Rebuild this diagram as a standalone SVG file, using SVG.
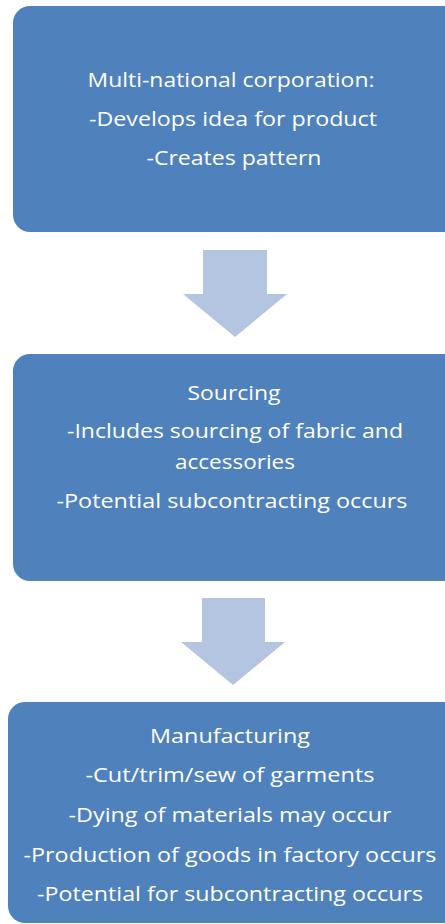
<svg xmlns="http://www.w3.org/2000/svg" width="445" height="924" viewBox="0 0 445 924">
<style>
.box{fill:#4F81BD}
.arrow{fill:#B3C5E0}
text{font-family:"Open Sans","Liberation Sans",sans-serif;font-size:20.5px;fill:#FFFFFF;text-anchor:middle}
</style>
<rect width="445" height="924" fill="#FFFFFF"/>
<g id="node-mnc">
<rect class="box" x="13" y="6" width="450" height="226" rx="17" ry="17"/>
<text x="231" y="87" textLength="287" lengthAdjust="spacingAndGlyphs">Multi-national corporation:</text>
<text x="233" y="126" textLength="288" lengthAdjust="spacingAndGlyphs">-Develops idea for product</text>
<text x="234" y="165" textLength="175" lengthAdjust="spacingAndGlyphs">-Creates pattern</text>
</g>
<g id="node-sourcing">
<rect class="box" x="13" y="354" width="450" height="227" rx="17" ry="17"/>
<text x="234" y="400" textLength="93" lengthAdjust="spacingAndGlyphs">Sourcing</text>
<text x="235" y="438" textLength="336" lengthAdjust="spacingAndGlyphs">-Includes sourcing of fabric and</text>
<text x="235" y="469" textLength="120" lengthAdjust="spacingAndGlyphs">accessories</text>
<text x="232" y="508" textLength="351" lengthAdjust="spacingAndGlyphs">-Potential subcontracting occurs</text>
</g>
<g id="node-manufacturing">
<rect class="box" x="8" y="702" width="455" height="221" rx="17" ry="17"/>
<text x="230" y="743" textLength="160" lengthAdjust="spacingAndGlyphs">Manufacturing</text>
<text x="230" y="782" textLength="289" lengthAdjust="spacingAndGlyphs">-Cut/trim/sew of garments</text>
<text x="230" y="822" textLength="323" lengthAdjust="spacingAndGlyphs">-Dying of materials may occur</text>
<text x="230" y="862" textLength="413" lengthAdjust="spacingAndGlyphs">-Production of goods in factory occurs</text>
<text x="230" y="901" textLength="386" lengthAdjust="spacingAndGlyphs">-Potential for subcontracting occurs</text>
</g>
<g id="connectors">
<polygon class="arrow" points="203,250 267,250 267,294 287,294 235,337 183,294 203,294"/>
<polygon class="arrow" points="202,598 265,598 265,642 285,642 233,685 181,642 202,642"/>
</g>
</svg>
